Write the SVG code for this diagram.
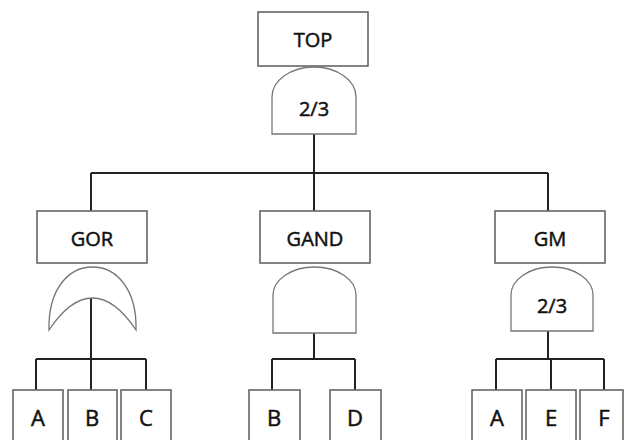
<svg xmlns="http://www.w3.org/2000/svg" width="624" height="440" viewBox="0 0 624 440">
<style>
.box{fill:#fff;stroke:#666;stroke-width:1.6}
.gate{fill:#fff;stroke:#777;stroke-width:1.3}
.wire{fill:none;stroke:#222;stroke-width:2}
text{font-family:"Open Sans","Liberation Sans",sans-serif;font-size:20px;fill:#111;stroke:#111;stroke-width:0.5;text-anchor:middle}
.leaf text{font-size:22px}
</style>
<rect width="624" height="440" fill="#fff"/>
<g id="connectors">
<path class="wire" d="M314 134V173M91 173H548M91 173V211M314 173V211M548 173V211"/>
<path class="wire" d="M91 298V359M36 359H146M36 359V390M91 359V390M146 359V390"/>
<path class="wire" d="M314 333V359M272 359H355M272 359V390M355 359V390"/>
<path class="wire" d="M548 331V359M496 359H604M496 359V390M551 359V390M604 359V390"/>
</g>
<g id="top"><rect class="box" x="258" y="12" width="110" height="54"/><text x="313" y="47">TOP</text></g>
<g id="topgate"><path class="gate" d="M272 134V97A42 30 0 0 1 356 97V134Z"/><text x="314" y="116">2/3</text></g>
<g id="gor"><rect class="box" x="37" y="211" width="110" height="52"/><text x="92" y="246">GOR</text></g>
<g id="orgate"><path class="gate" d="M49 330C48 290 68 267 92.5 267C117 267 137 290 136 330C120 306 106 298 92.5 298C79 298 65 306 49 330Z"/></g>
<g id="gand"><rect class="box" x="260" y="211" width="110" height="52"/><text x="315" y="246">GAND</text></g>
<g id="andgate"><path class="gate" d="M273 333V295A41.5 28 0 0 1 356 295V333Z"/></g>
<g id="gm"><rect class="box" x="495" y="211" width="110" height="52"/><text x="550" y="246">GM</text></g>
<g id="gmgate"><path class="gate" d="M511 331V295A41 28 0 0 1 593 295V331Z"/><text x="552" y="313">2/3</text></g>
<g id="leafA1" class="leaf"><rect class="box" x="13" y="390" width="50" height="60"/><text x="38" y="426">A</text></g>
<g id="leafB1" class="leaf"><rect class="box" x="68" y="390" width="49" height="60"/><text x="92" y="426">B</text></g>
<g id="leafC1" class="leaf"><rect class="box" x="121" y="390" width="50" height="60"/><text x="146" y="426">C</text></g>
<g id="leafB2" class="leaf"><rect class="box" x="249" y="390" width="51" height="60"/><text x="274" y="426">B</text></g>
<g id="leafD2" class="leaf"><rect class="box" x="330" y="390" width="51" height="60"/><text x="355" y="426">D</text></g>
<g id="leafA3" class="leaf"><rect class="box" x="472" y="390" width="50" height="60"/><text x="497" y="426">A</text></g>
<g id="leafE3" class="leaf"><rect class="box" x="526" y="390" width="50" height="60"/><text x="551" y="426">E</text></g>
<g id="leafF3" class="leaf"><rect class="box" x="580" y="390" width="43" height="60"/><text x="604" y="426">F</text></g>
</svg>
